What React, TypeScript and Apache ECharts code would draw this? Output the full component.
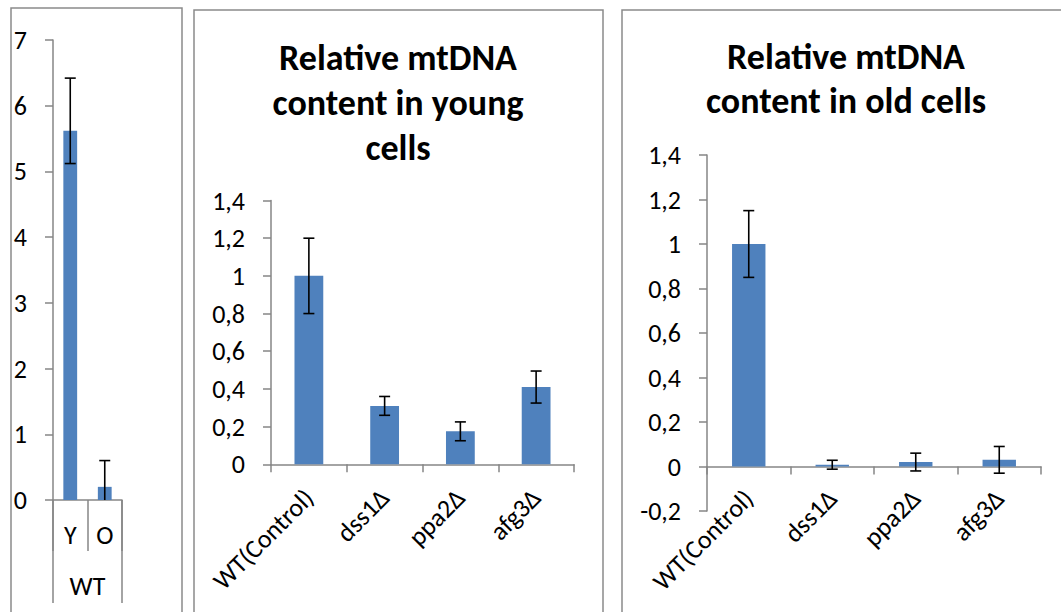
import React, { useEffect, useRef } from "react";
import * as echarts from "echarts";

// WT young vs old (left panel)
const wtCats = ["Y", "O"];
const wtGroup = ["WT"];
const wtMean = [5.62, 0.2];
const wtErrPlus = [0.8, 0.4];
const wtErrMinus = [0.5, 0.4];

// Mutant panels
const strainCats = ["WT(Control)", "dss1Δ", "ppa2Δ", "afg3Δ"];
const youngMean = [1.0, 0.31, 0.175, 0.41];
const youngErr = [0.2, 0.05, 0.05, 0.085];
const oldMean = [1.0, 0.008, 0.02, 0.03];
const oldErr = [0.15, 0.02, 0.04, 0.06];

const youngTitle = "Relative mtDNA\ncontent in young\ncells";
const oldTitle = "Relative mtDNA\ncontent in old cells";

const FONT = "Carlito, Calibri, Lato, sans-serif";
const AXIS_GREY = "#868686";
const BAR_BLUE = "#4F81BD";
const TICK_SIZE = 26;

const fmtComma = (v: number) => String(Math.round(v * 10) / 10).replace(".", ",");

function errorData(mean: number[], plus: number[], minus: number[]) {
  return mean.map((m, i) => [i, m - minus[i], m + plus[i]]);
}

function errorSeries(xIdx: number, yIdx: number, data: number[][], axisMin: number) {
  return {
    type: "custom",
    xAxisIndex: xIdx,
    yAxisIndex: yIdx,
    data,
    encode: { x: 0, y: [1, 2] },
    z: 5,
    renderItem: (_params: any, api: any) => {
      const x = api.value(0);
      let lo = api.value(1);
      const hi = api.value(2);
      const clipped = lo < axisMin;
      if (clipped) lo = axisMin;
      const top = api.coord([x, hi]);
      const bot = api.coord([x, lo]);
      const half = 5.5;
      const style = { stroke: "#000", lineWidth: 1.6 };
      const children: any[] = [
        { type: "line", shape: { x1: top[0], y1: top[1], x2: bot[0], y2: bot[1] }, style },
        { type: "line", shape: { x1: top[0] - half, y1: top[1], x2: top[0] + half, y2: top[1] }, style },
      ];
      if (!clipped) {
        children.push({
          type: "line",
          shape: { x1: bot[0] - half, y1: bot[1], x2: bot[0] + half, y2: bot[1] },
          style,
        });
      }
      return { type: "group", children };
    },
  };
}

const yAxisBase = (gridIndex: number, min: number, max: number, interval: number) => ({
  type: "value",
  gridIndex,
  min,
  max,
  interval,
  axisLine: { show: true, lineStyle: { color: AXIS_GREY, width: 1.5 } },
  axisTick: { show: true, length: 8, lineStyle: { color: AXIS_GREY, width: 1.5 } },
  splitLine: { show: false },
  axisLabel: { fontSize: TICK_SIZE, color: "#000", fontFamily: FONT, margin: 26, formatter: fmtComma },
});

const strainXAxis = (gridIndex: number, margin: number) => ({
  type: "category",
  gridIndex,
  data: strainCats,
  axisLine: { show: true, onZero: true, lineStyle: { color: AXIS_GREY, width: 1.5 } },
  axisTick: { show: true, length: 8, interval: 0, lineStyle: { color: AXIS_GREY, width: 1.5 } },
  axisLabel: {
    interval: 0,
    rotate: 45,
    fontSize: TICK_SIZE,
    color: "#000",
    fontFamily: FONT,
    margin,
  },
});

export default function App() {
  const ref = useRef<HTMLDivElement>(null);

  useEffect(() => {
    if (!ref.current) return;
    const chart = echarts.init(ref.current, undefined, { renderer: "svg" });

    const panelStyle = { fill: "none", stroke: "#8a8a8a", lineWidth: 1.5 };
    const titleStyle = {
      align: "center",
      verticalAlign: "top",
      fontSize: 36,
      fontWeight: "bold",
      fontFamily: FONT,
      lineHeight: 45,
      fill: "#000",
    };

    chart.setOption({
      animation: false,
      backgroundColor: "#fff",
      grid: [
        { left: 53, top: 40, width: 69, height: 460, outerBoundsMode: "none" },
        { left: 271, top: 200.5, width: 303, height: 263.8, outerBoundsMode: "none" },
        { left: 707, top: 155, width: 334, height: 356, outerBoundsMode: "none" },
      ],
      xAxis: [
        {
          type: "category",
          gridIndex: 0,
          data: wtCats,
          axisLine: { show: true, lineStyle: { color: AXIS_GREY, width: 1.5 } },
          axisTick: { show: true, length: 51, interval: 0, lineStyle: { color: AXIS_GREY, width: 1.5 } },
          axisLabel: { fontSize: TICK_SIZE, color: "#000", fontFamily: FONT, margin: 22, interval: 0 },
        },
        {
          type: "category",
          gridIndex: 0,
          position: "bottom",
          data: wtGroup,
          axisLine: { show: false },
          axisTick: { show: true, length: 103, interval: 0, lineStyle: { color: AXIS_GREY, width: 1.5 } },
          axisLabel: { fontSize: TICK_SIZE, color: "#000", fontFamily: FONT, margin: 73, interval: 0 },
        },
        strainXAxis(1, 29),
        strainXAxis(2, -17),
      ],
      yAxis: [yAxisBase(0, 0, 7, 1), yAxisBase(1, 0, 1.4, 0.2), yAxisBase(2, -0.2, 1.4, 0.2)],
      series: [
        {
          type: "bar",
          xAxisIndex: 0,
          yAxisIndex: 0,
          data: wtMean,
          barWidth: "40%",
          itemStyle: { color: BAR_BLUE },
        },
        errorSeries(0, 0, errorData(wtMean, wtErrPlus, wtErrMinus), 0),
        {
          type: "bar",
          xAxisIndex: 2,
          yAxisIndex: 1,
          data: youngMean,
          barWidth: "38%",
          itemStyle: { color: BAR_BLUE },
        },
        errorSeries(2, 1, errorData(youngMean, youngErr, youngErr), 0),
        {
          type: "bar",
          xAxisIndex: 3,
          yAxisIndex: 2,
          data: oldMean,
          barWidth: "40%",
          itemStyle: { color: BAR_BLUE },
        },
        errorSeries(3, 2, errorData(oldMean, oldErr, oldErr), -0.2),
      ],
      graphic: [
        { type: "rect", silent: true, z: -10, shape: { x: 11, y: 8, width: 171, height: 620 }, style: panelStyle },
        { type: "rect", silent: true, z: -10, shape: { x: 194, y: 10, width: 409, height: 620 }, style: panelStyle },
        { type: "rect", silent: true, z: -10, shape: { x: 622, y: 10, width: 460, height: 620 }, style: panelStyle },
        { type: "text", x: 398, y: 35, style: { ...titleStyle, text: youngTitle } },
        { type: "text", x: 846, y: 35, style: { ...titleStyle, text: oldTitle, lineHeight: 44 } },
      ],
    });

    return () => chart.dispose();
  }, []);

  return (
    <div
      ref={ref}
      style={{ position: "fixed", left: 0, top: 0, width: 1061, height: 612, background: "#fff" }}
    />
  );
}
